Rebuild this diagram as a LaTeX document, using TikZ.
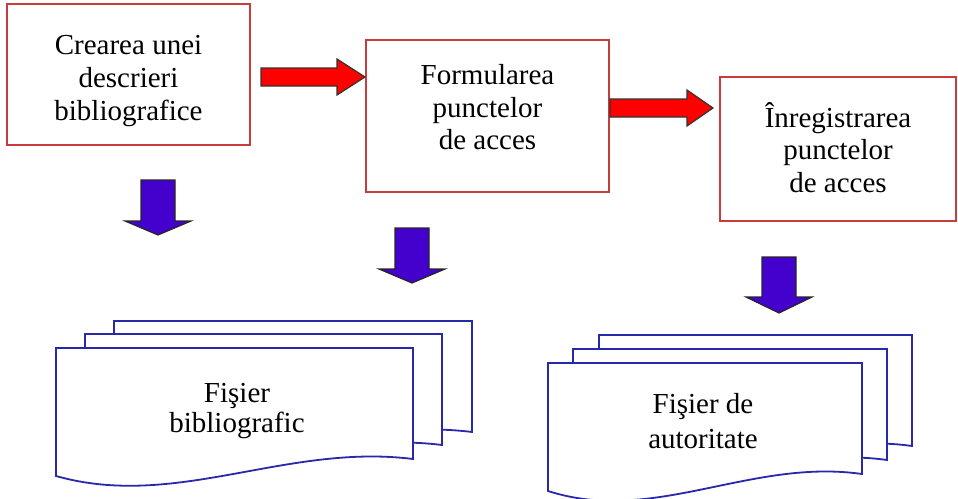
\documentclass[tikz,border=0pt]{standalone}
\usepackage{fontspec}
\setmainfont{Liberation Serif}
\definecolor{boxred}{RGB}{200,60,60}
\definecolor{docblue}{RGB}{40,40,170}
\definecolor{arrowred}{RGB}{255,0,0}
\definecolor{arrowviolet}{RGB}{68,0,204}
\tikzset{
  procbox/.style={draw=boxred, line width=1.3pt, fill=white, inner sep=0pt,
                  align=center, font=\rmfamily\fontsize{29}{33}\selectfont},
  labeltext/.style={inner sep=0pt, align=center},
  docline/.style={draw=docblue, line width=1.8pt, fill=white, line join=miter},
  redblock/.style={fill=arrowred, draw=black!80, line width=1.2pt, line join=miter},
  violetblock/.style={fill=arrowviolet, draw=black!85, line width=1.2pt, line join=miter}
}
% uniform line strut for stacked labels
\newcommand\ls{\rule[-9.5pt]{0pt}{22.5pt}}
% three stacked lines, moved down by #1
\newcommand\boxlines[4]{\raisebox{#1}[\height][\depth]{\shortstack{\ls#2\\\ls#3\\\ls#4}}}
% document sheet with a wavy lower edge: {left}{top}{width}
\newcommand\docsheet[3]{%
  \path[docline] (#1,#2) -- (#1+#3,#2) -- (#1+#3,#2+111)
    .. controls (#1+0.644*#3,#2+95) and (#1+0.336*#3,#2+162) .. (#1,#2+128) -- cycle;}
% horizontal block arrow: {left}{centre y}{head start}{tip}
\newcommand\hblock[4]{%
  \path[redblock] (#1,#2-9) -- (#3,#2-9) -- (#3,#2-18) -- (#4,#2)
    -- (#3,#2+18) -- (#3,#2+9) -- (#1,#2+9) -- cycle;}
% vertical block arrow: {centre x}{top}{head start}{tip}
\newcommand\vblock[4]{%
  \path[violetblock] (#1-17,#2) -- (#1+17,#2) -- (#1+17,#3) -- (#1+33,#3)
    -- (#1,#4) -- (#1-33,#3) -- (#1-17,#3) -- cycle;}
\begin{document}
\begin{tikzpicture}[x=1pt,y=-1pt]
\useasboundingbox (0,0) rectangle (958,498);

% process boxes
\node[procbox, minimum width=243pt, minimum height=141pt] (crear) at (128.5,74.5)
  {\boxlines{-8pt}{Crearea unei}{descrieri}{bibliografice}};
\node[procbox, minimum width=243pt, minimum height=152pt] (formul) at (487.5,116)
  {\boxlines{4pt}{Formularea}{punctelor}{de acces}};
\node[procbox, minimum width=236pt, minimum height=144pt] (inreg) at (838,149)
  {\boxlines{-3pt}{Înregistrarea}{punctelor}{de acces}};

% red block arrows between the steps
\hblock{261}{77}{337}{365}
\hblock{610}{108}{687}{713}

% violet block arrows towards the files
\vblock{158}{180}{221}{235}
\vblock{412}{228}{269}{283}
\vblock{779}{257}{297}{313}

% bibliographic file stack
\docsheet{114}{321}{358}
\docsheet{85}{334}{357}
\docsheet{56}{348}{357}
\node[labeltext, font=\fontsize{29}{30}\selectfont] (biblio) at (237,411) {Fişier\\bibliografic};

% authority file stack
\docsheet{599}{335}{313}
\docsheet{573}{349}{314}
\docsheet{548}{363}{314}
\node[labeltext, font=\fontsize{29}{35}\selectfont] (autor) at (703,421) {Fişier de\\autoritate};
\end{tikzpicture}
\end{document}
